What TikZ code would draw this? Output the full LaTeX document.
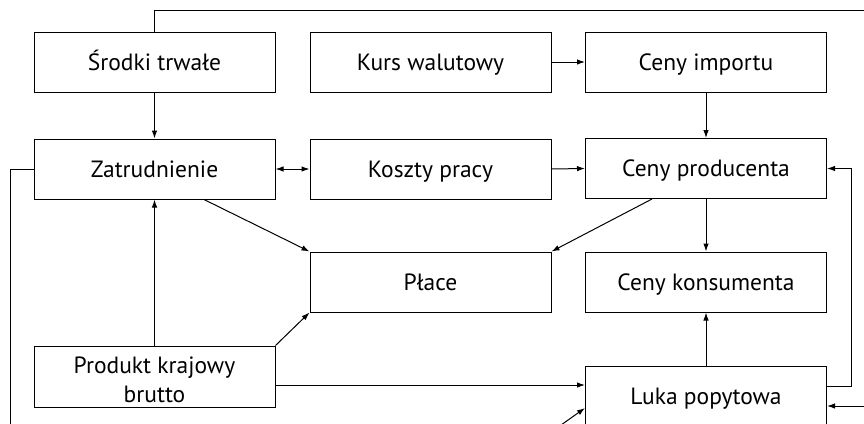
\documentclass[tikz,border=0pt]{standalone}
\usepackage{fontspec}
\setmainfont{PT Sans}
\usetikzlibrary{arrows.meta}
\begin{document}
\begin{tikzpicture}[x=1pt,y=-1pt,
  box/.style={draw,line width=1pt,minimum width=241pt,minimum height=60pt,
    inner sep=0pt,align=center,text height=16pt,text depth=0pt,
    font=\fontsize{23.5}{29}\selectfont},
  link/.style={line width=1pt},
  arr/.style={link,-{Latex[length=8pt,width=5.5pt]}},
  darr/.style={link,{Latex[length=8pt,width=5.5pt]}-{Latex[length=8pt,width=5.5pt]}}]
\useasboundingbox (0,0) rectangle (864,423);
% boxes
\node[box] (sr) at (154.5,62) {Środki trwałe};
\node[box] (kw) at (430.5,62) {Kurs walutowy};
\node[box] (ci) at (706,62) {Ceny importu};
\node[box] (za) at (154.5,169) {Zatrudnienie};
\node[box] (kp) at (430.5,169) {Koszty pracy};
\node[box] (cp) at (706,168.5) {Ceny producenta};
\node[box] (pl) at (430.5,282) {Płace};
\node[box] (ck) at (706,282) {Ceny konsumenta};
\node[box,minimum height=61pt,text height=51pt,text depth=0pt] (pkb) at (154.5,376.5) {Produkt krajowy\\brutto};
\node[box] (lp) at (706,396) {Luka popytowa};
% free ends and bends
\coordinate (top) at (154.5,10);
\coordinate (topR) at (870,10);
\coordinate (leftB) at (10,430);
\coordinate (rloop) at (851,386);
\coordinate (rin) at (870,406);
\coordinate (lin) at (554,430);
\coordinate (linEnd) at (585,408);
\coordinate (pkbOut) at (0,385);
\coordinate (zaOut) at (204,0);
\coordinate (cpOut) at (652,0);
% connectors
\draw[link] (sr.north) -- (top) -- (topR);
\draw[link] (za.west) -| (leftB);
\draw[arr] (sr.south) -- (za.north);
\draw[arr] (kw.east) -- (ci.west);
\draw[arr] (ci.south) -- (cp.north);
\draw[darr] (za.east) -- (kp.west);
\draw[arr] (kp.east) -- (cp.west);
\draw[arr] (za.south -| zaOut) -- (pl.north west);
\draw[arr] (cp.south -| cpOut) -- (pl.north east);
\draw[arr] (cp.south) -- (ck.north);
\draw[arr] (pkb.north) -- (za.south);
\draw[arr] (pkb.north east) -- (pl.south west);
\draw[arr] (pkb.east |- pkbOut) -- (lp.west |- pkbOut);
\draw[arr] (lp.north) -- (ck.south);
\draw[arr] (lp.east |- rloop) -- (rloop) |- (cp.east);
\draw[arr] (rin) -- (lp.east |- rin);
\draw[arr] (lin) -- (lp.west |- linEnd);
\end{tikzpicture}
\end{document}
